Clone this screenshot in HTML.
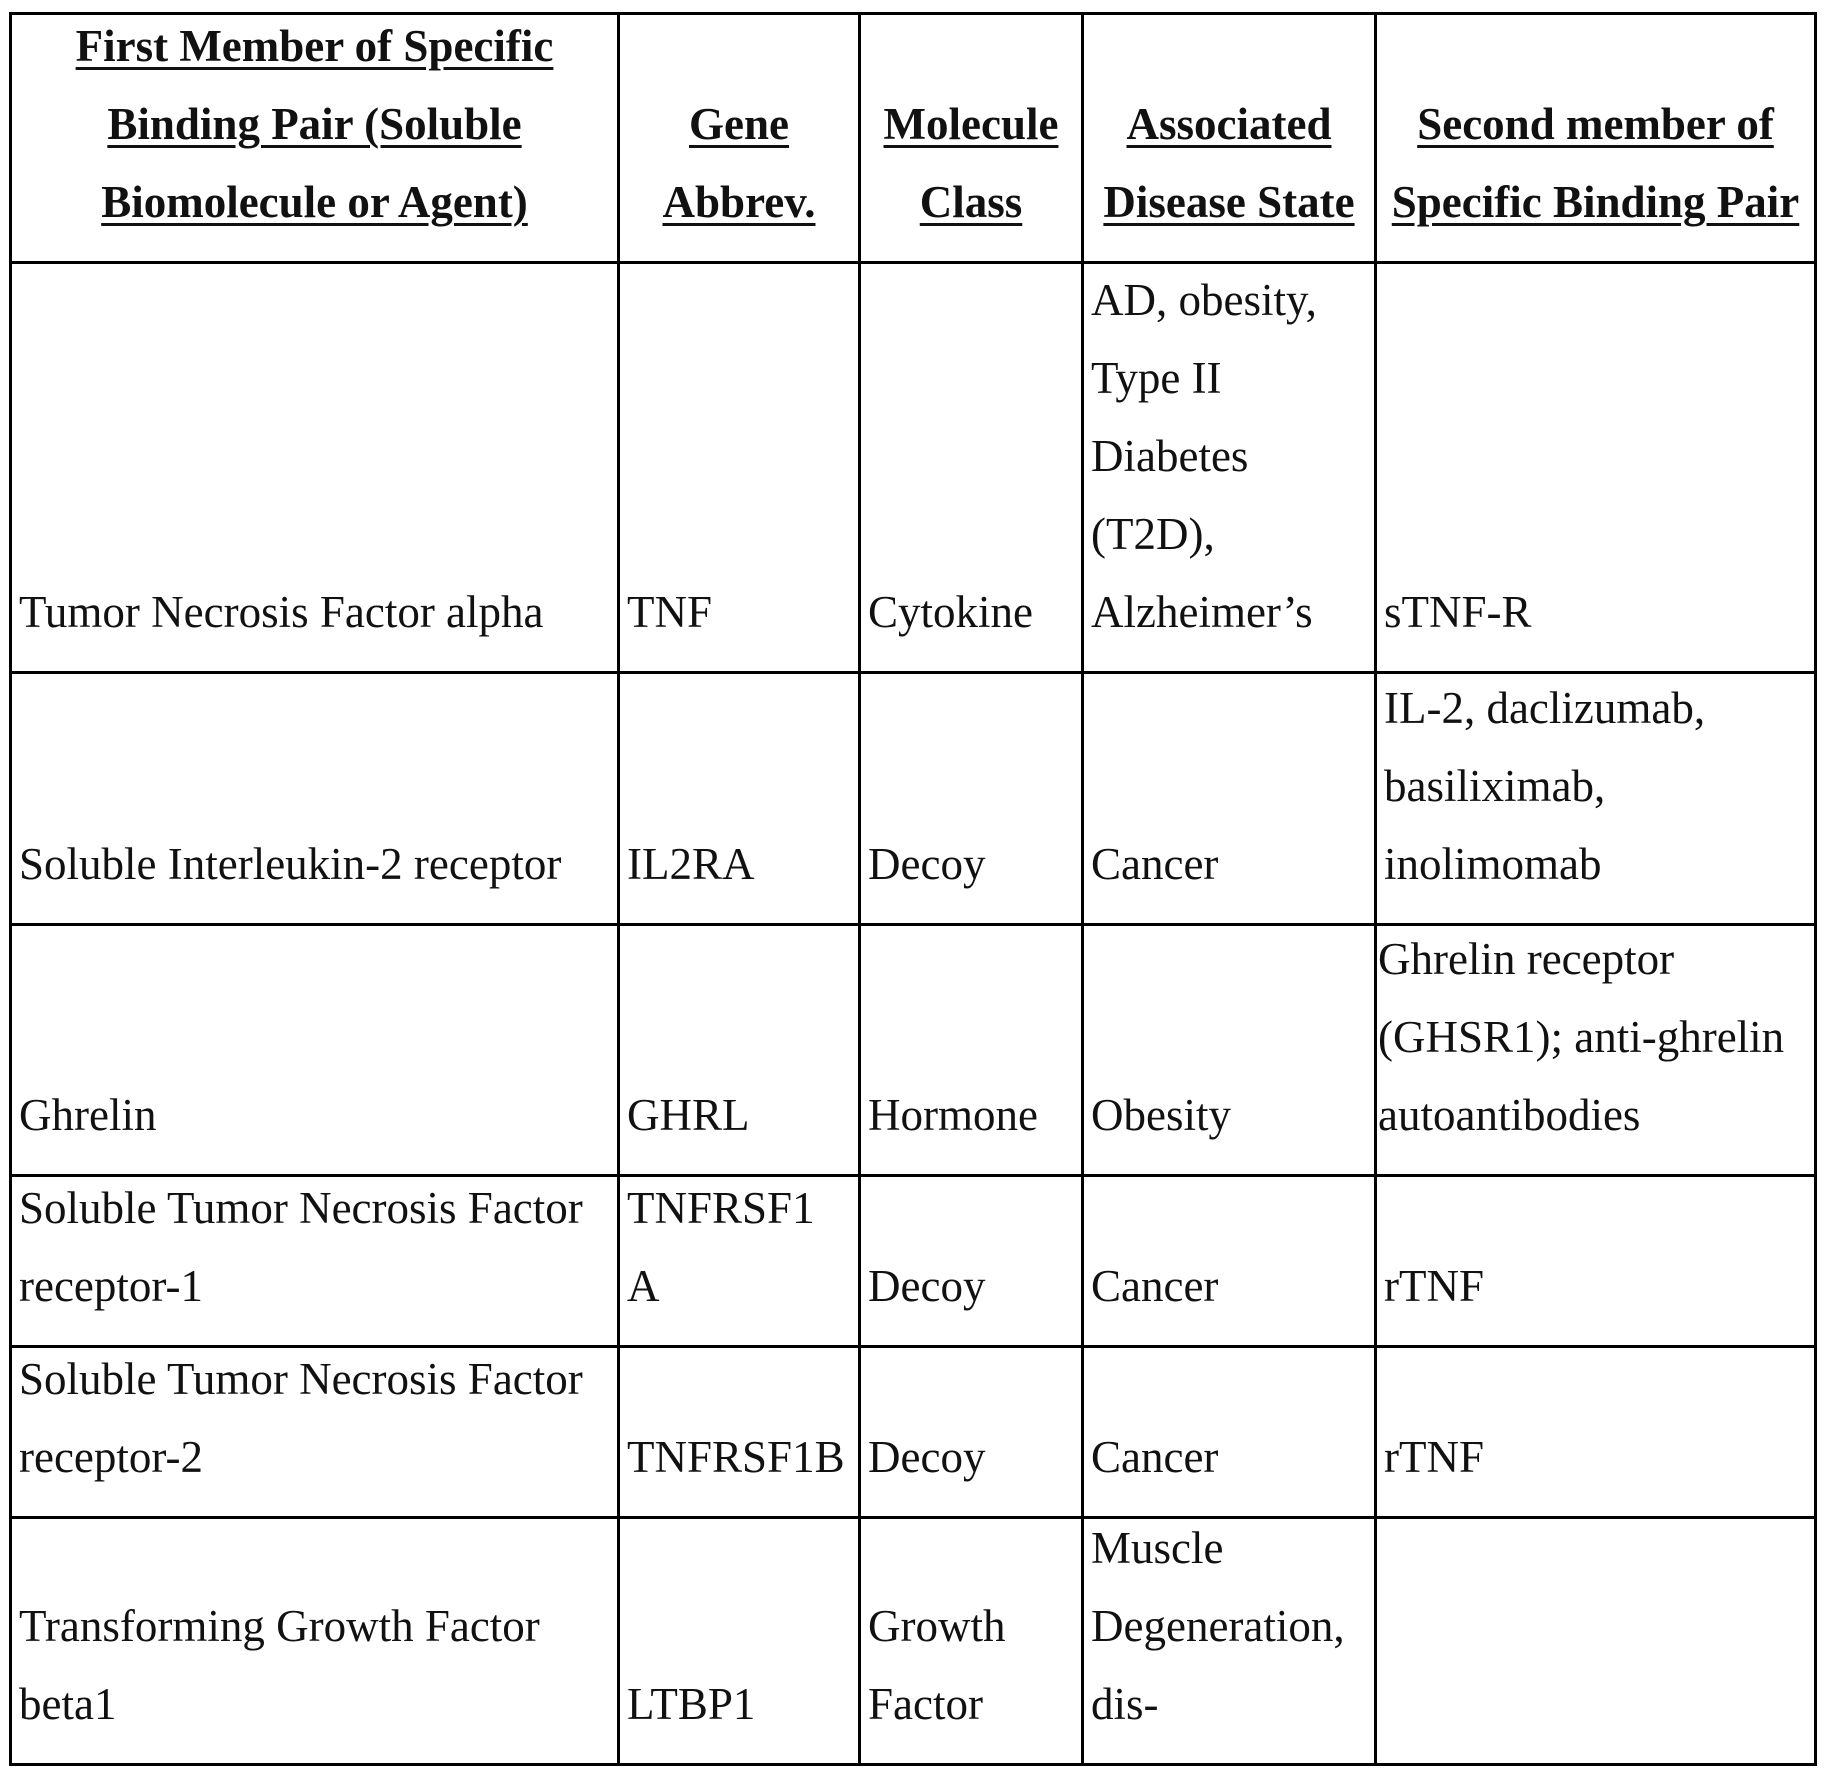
<!DOCTYPE html>
<html><head><meta charset="utf-8"><style>
html,body{margin:0;padding:0;background:#fff;}
body{width:1824px;height:1774px;position:relative;overflow:hidden;font-family:"Liberation Serif",serif;font-size:45px;color:#111;}
.c{position:absolute;box-sizing:border-box;border:3px solid #000;display:flex;flex-direction:column;justify-content:flex-end;padding:0 2px 20px 7px;line-height:78px;white-space:nowrap;}
.h{text-align:center;font-weight:bold;align-items:center;padding-left:0;padding-right:0;}
.h span{text-decoration:underline;text-decoration-thickness:3px;text-underline-offset:6px;}
</style></head><body>
<div class="c h" style="left:9px;top:12px;width:611px;height:252px"><span>First Member of Specific</span><span>Binding Pair (Soluble</span><span>Biomolecule or Agent)</span></div>
<div class="c h" style="left:617px;top:12px;width:244px;height:252px"><span>Gene</span><span>Abbrev.</span></div>
<div class="c h" style="left:858px;top:12px;width:226px;height:252px"><span>Molecule</span><span>Class</span></div>
<div class="c h" style="left:1081px;top:12px;width:296px;height:252px"><span>Associated</span><span>Disease State</span></div>
<div class="c h" style="left:1374px;top:12px;width:443px;height:252px"><span>Second member of</span><span>Specific Binding Pair</span></div>

<div class="c" style="left:9px;top:261px;width:611px;height:413px"><div>Tumor Necrosis Factor alpha</div></div>
<div class="c" style="left:617px;top:261px;width:244px;height:413px"><div>TNF</div></div>
<div class="c" style="left:858px;top:261px;width:226px;height:413px"><div>Cytokine</div></div>
<div class="c" style="left:1081px;top:261px;width:296px;height:413px"><div>AD, obesity,</div><div>Type II</div><div>Diabetes</div><div>(T2D),</div><div>Alzheimer’s</div></div>
<div class="c" style="left:1374px;top:261px;width:443px;height:413px"><div>sTNF-R</div></div>

<div class="c" style="left:9px;top:671px;width:611px;height:255px"><div>Soluble Interleukin-2 receptor</div></div>
<div class="c" style="left:617px;top:671px;width:244px;height:255px"><div>IL2RA</div></div>
<div class="c" style="left:858px;top:671px;width:226px;height:255px"><div>Decoy</div></div>
<div class="c" style="left:1081px;top:671px;width:296px;height:255px"><div>Cancer</div></div>
<div class="c" style="left:1374px;top:671px;width:443px;height:255px"><div>IL-2, daclizumab,</div><div>basiliximab,</div><div>inolimomab</div></div>

<div class="c" style="left:9px;top:923px;width:611px;height:254px"><div>Ghrelin</div></div>
<div class="c" style="left:617px;top:923px;width:244px;height:254px"><div>GHRL</div></div>
<div class="c" style="left:858px;top:923px;width:226px;height:254px"><div>Hormone</div></div>
<div class="c" style="left:1081px;top:923px;width:296px;height:254px"><div>Obesity</div></div>
<div class="c" style="left:1374px;top:923px;width:443px;height:254px;padding-left:1px"><div>Ghrelin receptor</div><div>(GHSR1); anti-ghrelin</div><div>autoantibodies</div></div>

<div class="c" style="left:9px;top:1174px;width:611px;height:174px"><div>Soluble Tumor Necrosis Factor</div><div>receptor-1</div></div>
<div class="c" style="left:617px;top:1174px;width:244px;height:174px"><div>TNFRSF1</div><div>A</div></div>
<div class="c" style="left:858px;top:1174px;width:226px;height:174px"><div>Decoy</div></div>
<div class="c" style="left:1081px;top:1174px;width:296px;height:174px"><div>Cancer</div></div>
<div class="c" style="left:1374px;top:1174px;width:443px;height:174px"><div>rTNF</div></div>

<div class="c" style="left:9px;top:1345px;width:611px;height:174px"><div>Soluble Tumor Necrosis Factor</div><div>receptor-2</div></div>
<div class="c" style="left:617px;top:1345px;width:244px;height:174px"><div>TNFRSF1B</div></div>
<div class="c" style="left:858px;top:1345px;width:226px;height:174px"><div>Decoy</div></div>
<div class="c" style="left:1081px;top:1345px;width:296px;height:174px"><div>Cancer</div></div>
<div class="c" style="left:1374px;top:1345px;width:443px;height:174px"><div>rTNF</div></div>

<div class="c" style="left:9px;top:1516px;width:611px;height:250px"><div>Transforming Growth Factor</div><div>beta1</div></div>
<div class="c" style="left:617px;top:1516px;width:244px;height:250px"><div>LTBP1</div></div>
<div class="c" style="left:858px;top:1516px;width:226px;height:250px"><div>Growth</div><div>Factor</div></div>
<div class="c" style="left:1081px;top:1516px;width:296px;height:250px"><div>Muscle</div><div>Degeneration,</div><div>dis-</div></div>
<div class="c" style="left:1374px;top:1516px;width:443px;height:250px"></div>
</body></html>
